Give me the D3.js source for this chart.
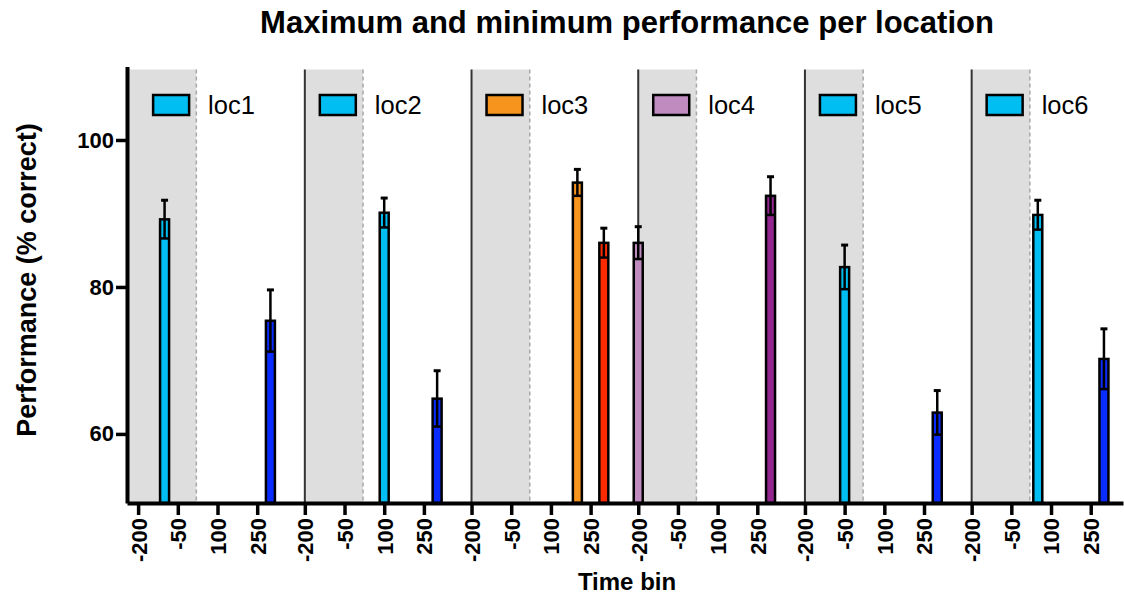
<!DOCTYPE html>
<html>
<head>
<meta charset="utf-8">
<script src="https://cdn.jsdelivr.net/npm/d3@7"></script>
<style>
  body { margin: 0; background: #fff; }
  svg { display: block; font-family: "Liberation Sans", Arial, sans-serif; }
</style>
</head>
<body>
<svg id="chart" width="1124" height="599"></svg>
<script>
// data
var locations = ["loc1", "loc2", "loc3", "loc4", "loc5", "loc6"];
var tickTimes = [-200, -50, 100, 250];
var lightColors = ["#00bef2", "#00bef2", "#f7941d", "#c08cc0", "#00bef2", "#00bef2"];
var darkColors = ["#0a2cff", "#0a2cff", "#ff2a00", "#93278f", "#0a2cff", "#0a2cff"];

// first bar of each location (light colour)
var lightTime = [-100, 100, 200, -200, -50, 50];
var lightPerf = [89.2, 90.1, 94.2, 86.0, 82.7, 89.8];
var lightSem = [2.6, 2.0, 1.8, 2.2, 3.0, 2.0];

// second bar of each location (dark colour)
var darkTime = [300, 300, 300, 300, 300, 300];
var darkPerf = [75.4, 64.8, 86.0, 92.4, 62.9, 70.2];
var darkSem = [4.2, 3.8, 2.0, 2.6, 3.0, 4.1];

var yTicks = [60, 80, 100];

var period = 630,     // time units taken by one location block
	shadeFrom = -200,
	shadeTo = 20,
	barW = 34;

var svg = d3.select("#chart");

var x = d3.scaleLinear().domain([-242, 5 * period + 372]).range([127, 1123]),
	y = d3.scaleLinear().domain([50.6, 110]).range([503, 66.5]);

var pos = function(i, t) { return i * period + t; };

var yTop = y(110) + 3, yBot = y(50.6);

// shaded stimulus windows
var shadeLeft = function(i) { return i === 0 ? x.range()[0] : x(pos(i, shadeFrom)); };

svg.append("g").selectAll("rect")
	.data(locations)
	.enter().append("rect")
	.attr("x", function(d, i) { return shadeLeft(i); })
	.attr("width", function(d, i) { return x(pos(i, shadeTo)) - shadeLeft(i); })
	.attr("y", yTop)
	.attr("height", yBot - yTop)
	.attr("fill", "#dedede");

// dashed end of shading
svg.append("g").selectAll("line")
	.data(locations)
	.enter().append("line")
	.attr("x1", function(d, i) { return x(pos(i, shadeTo)); })
	.attr("x2", function(d, i) { return x(pos(i, shadeTo)); })
	.attr("y1", yTop).attr("y2", yBot)
	.attr("stroke", "#a8a8a8")
	.attr("stroke-width", 1.5)
	.attr("stroke-dasharray", "4,3");

// separator lines between locations
svg.append("g").selectAll("line")
	.data(locations.slice(1))
	.enter().append("line")
	.attr("x1", function(d, i) { return x(pos(i + 1, shadeFrom)); })
	.attr("x2", function(d, i) { return x(pos(i + 1, shadeFrom)); })
	.attr("y1", yTop).attr("y2", yBot)
	.attr("stroke", "#333")
	.attr("stroke-width", 2);

// legends
var leg = svg.append("g").selectAll("g")
	.data(locations)
	.enter().append("g")
	.attr("transform", function(d, i) { return "translate(" + (x(pos(i, -200)) + 15) + ",95)"; });

leg.append("rect")
	.attr("width", 36).attr("height", 20)
	.attr("fill", function(d, i) { return lightColors[i]; })
	.attr("stroke", "#000")
	.attr("stroke-width", 2.5);

leg.append("text")
	.attr("x", 55).attr("y", 19)
	.attr("font-size", 25.5)
	.text(function(d) { return d; });

// bars
var bars = [];
locations.forEach(function(d, i) {
	bars.push({p: pos(i, lightTime[i]), v: lightPerf[i], e: lightSem[i], c: lightColors[i]});
	bars.push({p: pos(i, darkTime[i]), v: darkPerf[i], e: darkSem[i], c: darkColors[i]});
});

var bg = svg.append("g").selectAll("g")
	.data(bars)
	.enter().append("g");

bg.append("rect")
	.attr("x", function(d) { return x(d.p - barW / 2); })
	.attr("width", function(d) { return x(d.p + barW / 2) - x(d.p - barW / 2); })
	.attr("y", function(d) { return y(d.v); })
	.attr("height", function(d) { return yBot - y(d.v); })
	.attr("fill", function(d) { return d.c; })
	.attr("stroke", "#000")
	.attr("stroke-width", 2.5);

// error bars: up with cap, down inside the bar with a full-width line
bg.append("line")
	.attr("x1", function(d) { return x(d.p); })
	.attr("x2", function(d) { return x(d.p); })
	.attr("y1", function(d) { return y(d.v + d.e); })
	.attr("y2", function(d) { return y(d.v - d.e); })
	.attr("stroke", "#000")
	.attr("stroke-width", 2.5);

bg.append("line")
	.attr("x1", function(d) { return x(d.p) - 3.5; })
	.attr("x2", function(d) { return x(d.p) + 3.5; })
	.attr("y1", function(d) { return y(d.v + d.e); })
	.attr("y2", function(d) { return y(d.v + d.e); })
	.attr("stroke", "#000")
	.attr("stroke-width", 3);

bg.append("line")
	.attr("x1", function(d) { return x(d.p - barW / 2); })
	.attr("x2", function(d) { return x(d.p + barW / 2); })
	.attr("y1", function(d) { return y(d.v - d.e); })
	.attr("y2", function(d) { return y(d.v - d.e); })
	.attr("stroke", "#000")
	.attr("stroke-width", 2.5);

// axes
var xTickPos = [], xTickLab = {};
locations.forEach(function(d, i) {
	tickTimes.forEach(function(t) {
		xTickPos.push(pos(i, t));
		xTickLab[pos(i, t)] = t;
	});
});

var xAxis = svg.append("g")
	.attr("transform", "translate(0," + yBot + ")")
	.call(d3.axisBottom(x).tickValues(xTickPos)
		.tickFormat(function(d) { return xTickLab[d]; })
		.tickSize(12).tickSizeOuter(0));

xAxis.select(".domain").attr("stroke", "#000").attr("stroke-width", 4);
xAxis.selectAll(".tick line").attr("stroke", "#000").attr("stroke-width", 3.5);
xAxis.selectAll(".tick text")
	.attr("font-family", "Liberation Sans, Arial, sans-serif")
	.attr("font-size", 22)
	.attr("font-weight", "bold")
	.attr("fill", "#000")
	.attr("text-anchor", "end")
	.attr("transform", "rotate(-90)")
	.attr("x", -15)
	.attr("y", 0)
	.attr("dy", "0.36em");

var yAxis = svg.append("g")
	.attr("transform", "translate(" + x.range()[0] + ",0)")
	.call(d3.axisLeft(y).tickValues(yTicks).tickSize(11).tickSizeOuter(0));

yAxis.select(".domain").attr("stroke", "#000").attr("stroke-width", 4);
yAxis.selectAll(".tick line").attr("stroke", "#000").attr("stroke-width", 3.5);
yAxis.selectAll(".tick text")
	.attr("font-family", "Liberation Sans, Arial, sans-serif")
	.attr("font-size", 22)
	.attr("font-weight", "bold")
	.attr("fill", "#000")
	.attr("x", -13);

// titles
svg.append("text")
	.attr("x", 627).attr("y", 33)
	.attr("text-anchor", "middle")
	.attr("font-size", 31)
	.attr("font-weight", "bold")
	.text("Maximum and minimum performance per location");

svg.append("text")
	.attr("x", 627).attr("y", 590)
	.attr("text-anchor", "middle")
	.attr("font-size", 24)
	.attr("font-weight", "bold")
	.text("Time bin");

svg.append("text")
	.attr("transform", "translate(36,280) rotate(-90)")
	.attr("text-anchor", "middle")
	.attr("font-size", 27)
	.attr("font-weight", "bold")
	.text("Performance (% correct)");
</script>
</body>
</html>
